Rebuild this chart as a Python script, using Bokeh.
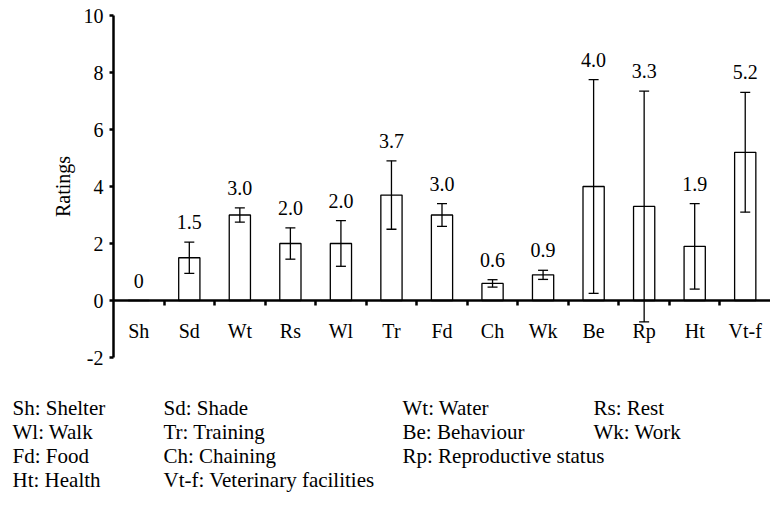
import math
from bokeh.plotting import figure
from bokeh.models import (Range1d, FixedTicker, Whisker, TeeHead, ColumnDataSource)
from bokeh.core.properties import value
from bokeh.embed import file_html
from bokeh.resources import INLINE

# ---------------- data ----------------
categories = ["Sh", "Sd", "Wt", "Rs", "Wl", "Tr", "Fd", "Ch", "Wk", "Be", "Rp", "Ht", "Vt-f"]
ratings = [0, 1.5, 3.0, 2.0, 2.0, 3.7, 3.0, 0.6, 0.9, 4.0, 3.3, 1.9, 5.2]
errors = [0, 0.55, 0.25, 0.55, 0.8, 1.2, 0.4, 0.13, 0.16, 3.75, 4.05, 1.5, 2.1]
value_labels = ["0", "1.5", "3.0", "2.0", "2.0", "3.7", "3.0", "0.6", "0.9", "4.0", "3.3", "1.9", "5.2"]
y_ticks = [-2, 0, 2, 4, 6, 8, 10]
y_tick_labels = {-2: "-2", 0: "0", 2: "2", 4: "4", 6: "6", 8: "8", 10: "10"}
y_title = "Ratings"

legend_items = ["Sh: Shelter", "Sd: Shade", "Wt: Water", "Rs: Rest",
                "Wl: Walk", "Tr: Training", "Be: Behaviour", "Wk: Work",
                "Fd: Food", "Ch: Chaining", "Rp: Reproductive status",
                "Ht: Health", "Vt-f: Veterinary facilities"]
legend_col = [0, 1, 2, 3, 0, 1, 2, 3, 0, 1, 2, 0, 1]
legend_row = [0, 0, 0, 0, 1, 1, 1, 1, 2, 2, 2, 3, 3]

FONT = "Liberation Serif"
n = len(categories)
Y0, Y1 = -2, 10

# ---------------- layout constants (canvas pixels) ----------------
W, H = 770, 503
PLOT_L, PLOT_R = 113, 770      # bar area left/right
PLOT_T, PLOT_B = 15, 357       # y=10 / y=-2
COL_PX = [12, 163, 402, 593]   # key column left edges
ROW_PX0, ROW_DY = 407, 24      # key first row centre and spacing
TITLE_PX = 62                  # centre of the rotated y title

band = (PLOT_R - PLOT_L) / n
unit = (PLOT_B - PLOT_T) / (Y1 - Y0)


def px_to_x(px):
    return (px - PLOT_L) / band


def py_to_y(py):
    return Y1 - (py - PLOT_T) / unit


# ---------------- figure: frame covers the whole canvas ----------------
p = figure(x_range=Range1d(px_to_x(0), px_to_x(W)),
           y_range=Range1d(py_to_y(H), py_to_y(0)),
           width=W, height=H, output_backend="svg", toolbar_location=None,
           min_border=0, min_border_left=0, min_border_right=0,
           min_border_top=0, min_border_bottom=0)
p.outline_line_color = None
p.xgrid.grid_line_color = None
p.ygrid.grid_line_color = None
p.background_fill_color = "white"
p.border_fill_color = "white"

xpos = [i + 0.5 for i in range(n)]
tops = [r + e for r, e in zip(ratings, errors)]
src = ColumnDataSource(dict(x=xpos, cat=categories, val=ratings, err=errors,
                            top=tops, lab=value_labels))

p.vbar(x="x", top="val", width=0.42, source=src, fill_color="white",
       line_color="black", line_width=1.3)

idx = [i for i, e in enumerate(errors) if e > 0]
wsrc = ColumnDataSource(dict(x=[xpos[i] for i in idx],
                             upper=[ratings[i] + errors[i] for i in idx],
                             lower=[ratings[i] - errors[i] for i in idx]))
w = Whisker(base="x", upper="upper", lower="lower", source=wsrc,
            line_color="black", line_width=1.3, level="annotation",
            upper_head=TeeHead(size=10, line_width=1.3, line_color="black"),
            lower_head=TeeHead(size=10, line_width=1.3, line_color="black"))
p.add_layout(w)

p.text(x="x", y="top", text="lab", source=src, text_align="center",
       text_baseline="middle", y_offset=-20, text_font=value(FONT),
       text_font_size="20px", text_color="black")

# category labels, below the zero line
p.text(x="x", y=0, text="cat", source=src, text_align="center",
       text_baseline="middle", y_offset=30, text_font=value(FONT),
       text_font_size="20px", text_color="black")

# y title
p.text(x=[px_to_x(TITLE_PX)], y=[(Y0 + Y1) / 2], text=[y_title], angle=math.pi / 2,
       text_align="center", text_baseline="middle", text_font=value(FONT),
       text_font_size="20px", text_color="black")

# y axis (at the left edge of the bar area)
ya = p.yaxis[0]
ya.fixed_location = 0
ya.bounds = (Y0, Y1)
ya.ticker = FixedTicker(ticks=y_ticks)
ya.major_label_overrides = y_tick_labels
ya.major_label_text_font = FONT
ya.major_label_text_font_size = "20px"
ya.major_label_text_color = "black"
ya.major_label_standoff = 6
ya.axis_line_width = 2.5
ya.axis_line_color = "black"
ya.major_tick_line_width = 2.5
ya.major_tick_line_color = "black"
ya.major_tick_out = 4
ya.major_tick_in = 0
ya.minor_tick_line_color = None

# x axis at zero, ticks between categories
xa = p.xaxis[0]
xa.fixed_location = 0
xa.bounds = (0, n)
xa.ticker = FixedTicker(ticks=list(range(1, n)))
xa.axis_line_width = 2.5
xa.axis_line_color = "black"
xa.major_tick_line_width = 2.5
xa.major_tick_line_color = "black"
xa.major_tick_out = 5
xa.major_tick_in = 0
xa.minor_tick_line_color = None
xa.major_label_text_alpha = 0
xa.major_label_text_font_size = "1px"
xa.major_label_standoff = 0

# ---------------- abbreviation key ----------------
lsrc = ColumnDataSource(dict(
    x=[px_to_x(COL_PX[c]) for c in legend_col],
    y=[py_to_y(ROW_PX0 + r * ROW_DY) for r in legend_row],
    t=legend_items))
p.text(x="x", y="y", text="t", source=lsrc, text_align="left",
       text_baseline="middle", text_font=value(FONT),
       text_font_size="21px", text_color="black")

open("out.html", "w").write(file_html(p, INLINE))
